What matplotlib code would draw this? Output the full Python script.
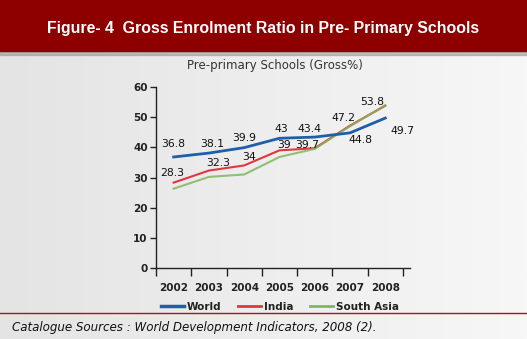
import numpy as np
import matplotlib.pyplot as plt
from matplotlib.lines import Line2D

years = ['2002', '2003', '2004', '2005', '2006', '2007', '2008']
world = [36.8, 38.1, 39.9, 43.0, 43.4, 44.8, 49.7]
india = [28.3, 32.3, 34.0, 39.0, 39.7, 47.2, 53.8]
south_asia = [26.3, 30.2, 31.0, 36.8, 39.5, 47.0, 54.0]
yticks = [0, 10, 20, 30, 40, 50, 60]

W, H = 527, 339
fig = plt.figure(figsize=(W / 100, H / 100), dpi=100)

# background gradient
bg = fig.add_axes([0, 0, 1, 1])
grad = np.linspace(0, 1, 256)[None, :]
bg.imshow(grad, aspect='auto', cmap=plt.matplotlib.colors.LinearSegmentedColormap.from_list(
    'g', ['#e4e4e4', '#f7f7f7']), extent=[0, 1, 0, 1])
bg.set_xlim(0, 1)
bg.set_ylim(0, 1)
bg.axis('off')

# banner with shadow
bg.add_patch(plt.Rectangle((0, 1 - 55 / H), 1, 4 / H, color='#9a9a9a', alpha=0.6))
bg.add_patch(plt.Rectangle((0, 1 - 51 / H), 1, 51 / H, color='#8e0000'))
bg.text(0.5, 1 - 28 / H, 'Figure- 4  Gross Enrolment Ratio in Pre- Primary Schools',
        color='white', fontsize=11.4, fontweight='bold', family='Liberation Sans',
        ha='center', va='center')

# separator line and caption
bg.add_line(Line2D([0, 1], [1 - 313 / H, 1 - 313 / H], color='#b01010', lw=1))
bg.text(12 / W, 1 - 327 / H, 'Catalogue Sources : World Development Indicators, 2008 (2).',
        fontsize=8.6, style='italic', family='DejaVu Sans', color='#111111',
        ha='left', va='center')

# chart title
bg.text(275 / W, 1 - 65 / H, 'Pre-primary Schools (Gross%)', fontsize=8.5,
        color='#333333', ha='center', va='center', family='DejaVu Sans')

ax = fig.add_axes([156 / W, (H - 268) / H, 254 / W, 181 / H])
ax.patch.set_alpha(0)
x = np.arange(len(years))
ax.plot(x, world, color='#1f5ea8', lw=2, zorder=3)
ax.plot(x, india, color='#e2363f', lw=1.5, zorder=2)
ax.plot(x, south_asia, color='#7fb85c', lw=1.5, alpha=0.85, zorder=2)

ax.set_xlim(-0.5, 6.7)
ax.set_ylim(0, 60)
ax.set_yticks(yticks)
ax.set_xticks(x)
ax.set_xticklabels(years)
ax.set_xticks(np.arange(-0.5, 7, 1), minor=True)
ax.tick_params(axis='x', which='major', length=0, pad=11, labelsize=7.5, colors='#222222')
ax.tick_params(axis='x', which='minor', length=6, width=1, direction='out', color='#222222')
ax.tick_params(axis='y', length=4, width=1, direction='out', labelsize=7.5, colors='#222222', pad=2)
for lab in ax.get_xticklabels() + ax.get_yticklabels():
    lab.set_fontweight('bold')
for s in ['top', 'right']:
    ax.spines[s].set_visible(False)
for s in ['left', 'bottom']:
    ax.spines[s].set_color('#222222')
    ax.spines[s].set_linewidth(1)

world_off = [(0, 13), (3, 9), (0, 10), (2, 9), (-5, 8), (10, -7), (17, -13)]
india_off = [(-1, 10), (9, 8), (5, 8), (5, 5), (-8, 3), (-7, 8), (-13, 4)]
for xi, v, off in zip(x, world, world_off):
    ax.annotate(f'{v:g}', (xi, v), xytext=off, textcoords='offset pixels',
                ha='center', va='center', fontsize=7.8, color='#111111')
for xi, v, off in zip(x, india, india_off):
    ax.annotate(f'{v:g}', (xi, v), xytext=off, textcoords='offset pixels',
                ha='center', va='center', fontsize=7.8, color='#111111')

handles = [Line2D([], [], color='#1f5ea8', lw=2.5),
           Line2D([], [], color='#e2363f', lw=2),
           Line2D([], [], color='#7fb85c', lw=2)]
leg = fig.legend(handles, ['World', 'India', 'South Asia'], loc='center',
                 bbox_to_anchor=(280 / W, 1 - 307 / H), ncol=3, frameon=False,
                 fontsize=7.5, handlelength=2.2, handletextpad=0.3, columnspacing=1.6)
for t in leg.get_texts():
    t.set_fontweight('bold')
    t.set_color('#222222')

fig.savefig('out.png', dpi=100)
